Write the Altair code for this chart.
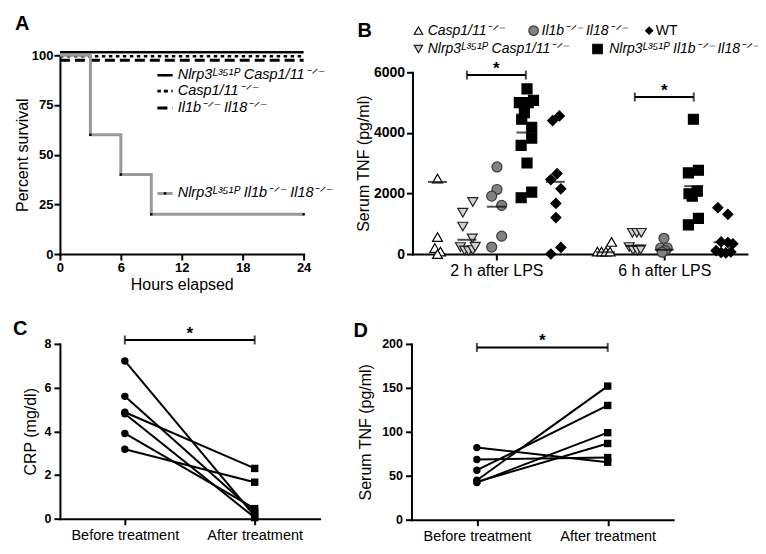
import altair as alt
import pandas as pd

FONT = "Liberation Sans"
GREY = "#9a9a9a"

# ---------------- Panel A : survival ----------------
a_series = ["Nlrp3 Casp1/11", "Casp1/11", "Il1b Il18", "Nlrp3 Il1b Il18"]
a_hours_flat = [0, 24]
a_pct_nlrp3_casp = [101.5, 101.5]
a_pct_casp = [99.5, 99.5]
a_pct_il = [97.5, 97.5]
a_hours_nlrp3_il = [0, 3, 6, 9, 24]
a_pct_nlrp3_il = [100, 60, 40, 20, 20]
a_event_hours = [3, 6, 9, 24]
a_event_pct = [60, 40, 20, 20]
a_legend_text = ["Nlrp3ᴸ³⁵¹ᴾ Casp1/11⁻ᐟ⁻", "Casp1/11⁻ᐟ⁻", "Il1b⁻ᐟ⁻ Il18⁻ᐟ⁻",
                 "Nlrp3ᴸ³⁵¹ᴾ Il1b⁻ᐟ⁻ Il18⁻ᐟ⁻"]
# legend layout, in panel-A data units
a_legend_y = [90, 82, 73.5, 30.5]
a_legend_x0, a_legend_x1, a_legend_tx = 9.6, 11.1, 11.6

# ---------------- Panel B : serum TNF after LPS ----------------
b_groups = ["Casp1/11", "Nlrp3 Casp1/11", "Il1b Il18", "Nlrp3 Il1b Il18", "WT"]
b_times = ["2 h after LPS", "6 h after LPS"]
b2_casp = [2490, 560, 200, 80, 0]
b2_ncasp = [1716, 1366, 907, 514, 230, 120, 100, 130, 240]
b2_il = [2875, 2131, 1913, 1607, 590, 230]
b2_nil = [5450, 4995, 4995, 5070, 4667, 4449, 4186, 3826, 3585, 3006, 2044, 1858]
b2_wt = [4560, 4405, 2656, 2459, 2153, 1672, 1202, 219, 0]
b6_casp = [80, 80, 80, 80, 400]
b6_ncasp = [700, 700, 700, 230, 130, 110, 150]
b6_il = [520, 200, 200, 110, 60]
b6_nil = [4449, 2678, 2765, 2077, 1989, 1913, 962, 1180]
b6_wt = [1530, 1312, 400, 380, 340, 110, 50, 40, 70]
b2_means = [2380, 470, 1563, 4011, 2383]
b6_means = [60, 272, 143, 2241, 390]
b_sig_y = [5908, 5184]
# horizontal jitter (in slot units)
b2_casp_jit = [0.0, 0.0, -0.09, 0.1, 0.0]
b2_ncasp_jit = [0.2, -0.14, -0.14, 0.18, -0.22, -0.08, 0.06, 0.2, 0.28]
b2_il_jit = [0.02, 0.02, -0.16, 0.18, 0.18, -0.16]
b2_nil_jit = [0.04, -0.22, 0.08, 0.26, -0.05, -0.14, 0.2, 0.2, -0.16, 0.04, 0.2, -0.16]
b2_wt_jit = [0.14, -0.09, 0.06, -0.15, 0.19, 0.02, 0.02, 0.19, -0.15]
b6_casp_jit = [-0.27, -0.13, 0.02, 0.16, 0.21]
b6_ncasp_jit = [-0.08, 0.07, 0.22, -0.19, -0.06, 0.09, 0.2]
b6_il_jit = [-0.01, -0.12, 0.1, 0.03, -0.07]
b6_nil_jit = [-0.01, -0.18, 0.16, 0.12, -0.16, -0.05, -0.18, 0.16]
b6_wt_jit = [-0.18, 0.16, -0.07, 0.16, 0.33, -0.24, -0.07, 0.09, 0.26]
b_center = [0.0, 5.7]
b_legend_text = ["Casp1/11⁻ᐟ⁻", "Nlrp3ᴸ³⁵¹ᴾ Casp1/11⁻ᐟ⁻", "Il1b⁻ᐟ⁻ Il18⁻ᐟ⁻",
                 "Nlrp3ᴸ³⁵¹ᴾ Il1b⁻ᐟ⁻ Il18⁻ᐟ⁻", "WT"]

# ---------------- Panels C, D : before / after treatment ----------------
cd_labels = ["Before treatment", "After treatment"]
c_before = [7.22, 5.6, 4.87, 4.8, 3.9, 3.18]
c_after = [0.12, 0.3, 2.3, 0.05, 0.46, 1.67]
c_sig_y = 8.18
d_before = [82, 68.4, 56.3, 44.9, 42.2, 43.0]
d_after = [65.4, 70.7, 130, 152, 99, 86.7]
d_sig_y = 196

# ================= styles =================
B_SHAPE = ["triangle-up", "triangle-down", "circle", "square", "diamond"]
B_FILL = ["#ffffff", "#d2d2d2", "#828282", "#000000", "#000000"]
B_STROKE = ["#000000", "#222222", "#3a3a3a", "#000000", "#000000"]
B_SIZE = [100, 100, 100, 110, 64]


def letter(ch, x, y):
    return alt.Chart(pd.DataFrame({"t": [ch]})).mark_text(
        align="left", baseline="alphabetic", fontSize=20, fontWeight="bold",
        font=FONT, color="black").encode(text="t:N", x=alt.value(x), y=alt.value(y))


# ---------- A ----------
rows = []
for s, hrs, pct in [(a_series[0], a_hours_flat, a_pct_nlrp3_casp),
                    (a_series[1], a_hours_flat, a_pct_casp),
                    (a_series[2], a_hours_flat, a_pct_il),
                    (a_series[3], a_hours_nlrp3_il, a_pct_nlrp3_il)]:
    for h, p in zip(hrs, pct):
        rows.append({"series": s, "hours": h, "pct": p})
a_df = pd.DataFrame(rows)
a_ev = pd.DataFrame({"hours": a_event_hours, "pct": a_event_pct})
a_leg = pd.DataFrame({"series": a_series, "label": a_legend_text, "y": a_legend_y,
                      "x0": a_legend_x0, "x1": a_legend_x1, "tx": a_legend_tx,
                      "xm": (a_legend_x0 + a_legend_x1) / 2})

ax_a_x = alt.Axis(values=[0, 6, 12, 18, 24], title="Hours elapsed", labelFontSize=13,
                  titleFontSize=16, labelPadding=1, titlePadding=3)
ax_a_y = alt.Axis(values=[0, 25, 50, 75, 100], title="Percent survival", labelFontSize=13,
                  titleFontSize=16, labelPadding=1, titlePadding=1)
sc_a_x = alt.Scale(domain=[0, 24], nice=False, zero=False)
sc_a_y = alt.Scale(domain=[0, 100], nice=False)


def AX(f):
    return alt.X(f, type="quantitative", scale=sc_a_x, axis=ax_a_x)


def AY(f):
    return alt.Y(f, type="quantitative", scale=sc_a_y, axis=ax_a_y)


a_color = alt.Color("series:N", scale=alt.Scale(domain=a_series, range=["black", "black", "black", GREY]), legend=None)
a_dash = alt.StrokeDash("series:N", scale=alt.Scale(domain=a_series, range=[[1, 0], [3.5, 3.5], [10, 5], [1, 0]]), legend=None)
a_width = alt.StrokeWidth("series:N", scale=alt.Scale(domain=a_series, range=[2.5, 3, 3, 3.5]), legend=None)

a_lines = alt.Chart(a_df).mark_line(interpolate="step-after", strokeCap="butt").encode(
    x=AX("hours"), y=AY("pct"), detail="series:N", color=a_color, strokeDash=a_dash, strokeWidth=a_width)
a_dots = alt.Chart(a_ev).mark_point(shape="square", filled=True, color="black", size=6, opacity=1).encode(
    x=AX("hours"), y=AY("pct"))
a_leg_rules = alt.Chart(a_leg).mark_rule(strokeCap="butt").encode(
    x=AX("x0"), x2="x1:Q", y=AY("y"), color=a_color, strokeDash=a_dash, strokeWidth=a_width)
a_leg_dots = alt.Chart(a_leg).mark_point(shape="square", filled=True, color="black", size=6, opacity=1).encode(
    x=AX("xm"), y=AY("y"))
a_leg_text = alt.Chart(a_leg).mark_text(align="left", baseline="middle", fontSize=14.5,
                                        fontStyle="italic", font=FONT, color="black").encode(
    x=AX("tx"), y=AY("y"), text="label:N")
panel_a = alt.layer(a_lines, a_dots, a_leg_rules, a_leg_dots, a_leg_text,
                    letter("A", -45, -25)).properties(width=244, height=199)

# ---------- B ----------
b_data = {
    (0, 0): (b2_casp, b2_casp_jit), (0, 1): (b2_ncasp, b2_ncasp_jit), (0, 2): (b2_il, b2_il_jit),
    (0, 3): (b2_nil, b2_nil_jit), (0, 4): (b2_wt, b2_wt_jit),
    (1, 0): (b6_casp, b6_casp_jit), (1, 1): (b6_ncasp, b6_ncasp_jit), (1, 2): (b6_il, b6_il_jit),
    (1, 3): (b6_nil, b6_nil_jit), (1, 4): (b6_wt, b6_wt_jit),
}
rows, mrows = [], []
for ti in range(2):
    means = b2_means if ti == 0 else b6_means
    for gi, g in enumerate(b_groups):
        vals, jits = b_data[(ti, gi)]
        for v, j in zip(vals, jits):
            rows.append({"time": b_times[ti], "group": g, "value": v,
                         "xpos": b_center[ti] + (gi - 2) + j})
        mrows.append({"group": g, "mean": means[gi], "xpos": b_center[ti] + (gi - 2)})
b_df = pd.DataFrame(rows)
b_mean = pd.DataFrame(mrows)
b_sig = pd.DataFrame({"x0": [c - 1 for c in b_center], "x1": [c + 1 for c in b_center],
                      "xm": b_center, "y": b_sig_y})
b_caps = pd.DataFrame({"x": [b_center[0] - 1, b_center[0] + 1, b_center[1] - 1, b_center[1] + 1],
                       "y": [b_sig_y[0], b_sig_y[0], b_sig_y[1], b_sig_y[1]]})

B_H = 199
sc_b_x = alt.Scale(domain=[-2.85, 8.51], nice=False, zero=False)
sc_b_y = alt.Scale(domain=[0, 6000], nice=False, range=[B_H, 17])
ax_b_x = alt.Axis(values=b_center, title=None, labelFontWeight="normal", labelFontSize=16,
                  labelPadding=2,
                  labelExpr="datum.value < 3 ? '2 h after LPS' : '6 h after LPS'")
ax_b_y = alt.Axis(values=[0, 2000, 4000, 6000], format="d", title="Serum TNF (pg/ml)", labelFontSize=14,
                  titleFontSize=16, labelPadding=2, titlePadding=2)


def BX(f):
    return alt.X(f, type="quantitative", scale=sc_b_x, axis=ax_b_x)


def BY(f):
    return alt.Y(f, type="quantitative", scale=sc_b_y, axis=ax_b_y)


b_pts = alt.Chart(b_df).mark_point(filled=True, opacity=1, strokeWidth=1.2).encode(
    x=BX("xpos"), y=BY("value"),
    shape=alt.Shape("group:N", scale=alt.Scale(domain=b_groups, range=B_SHAPE), legend=None),
    fill=alt.Fill("group:N", scale=alt.Scale(domain=b_groups, range=B_FILL), legend=None),
    stroke=alt.Stroke("group:N", scale=alt.Scale(domain=b_groups, range=B_STROKE), legend=None),
    size=alt.Size("group:N", scale=alt.Scale(domain=b_groups, range=B_SIZE), legend=None))
b_means_m = alt.Chart(b_mean).mark_tick(orient="horizontal", size=19, thickness=2, color="black").encode(
    x=BX("xpos"), y=BY("mean"))
b_sig_r = alt.Chart(b_sig).mark_rule(color="black", strokeWidth=2).encode(x=BX("x0"), x2="x1:Q", y=BY("y"))
b_sig_c = alt.Chart(b_caps).mark_tick(orient="vertical", size=9, thickness=2, color="black").encode(
    x=BX("x"), y=BY("y"))
b_sig_t = alt.Chart(b_sig).mark_text(text="*", fontSize=17, fontWeight="bold", font=FONT,
                                     baseline="middle", dy=-6, color="black").encode(x=BX("xm"), y=BY("y"))

# legend (pixel layout relative to the plot origin)
b_leg_sym_x = [6, 6, 121.3, 185.3, 237]
b_leg_txt_x = [15.3, 15.3, 129.3, 197, 243.7]
b_leg_y = [-24.7, -6.3, -24.7, -6.3, -24.7]
b_leg_size = [70, 70, 90, 90, 50]
b_leg_layers = []
for i, g in enumerate(b_groups):
    b_leg_layers.append(
        alt.Chart(pd.DataFrame({"g": [g]})).mark_point(
            shape=B_SHAPE[i], filled=True, fill=B_FILL[i], stroke=B_STROKE[i], strokeWidth=1.2,
            size=b_leg_size[i], opacity=1).encode(x=alt.value(b_leg_sym_x[i]), y=alt.value(b_leg_y[i])))
    b_leg_layers.append(
        alt.Chart(pd.DataFrame({"t": [b_legend_text[i]]})).mark_text(
            align="left", baseline="middle", fontSize=14, font=FONT, color="black",
            fontStyle="normal" if g == "WT" else "italic").encode(
            text="t:N", x=alt.value(b_leg_txt_x[i]), y=alt.value(b_leg_y[i])))
panel_b = alt.layer(b_pts, b_means_m, b_sig_r, b_sig_c, b_sig_t, *b_leg_layers,
                    letter("B", -55, -18)).properties(width=335, height=B_H)


# ---------- C & D ----------
def paired(before, after, sig_y, ydomain, yvalues, ytitle, lab, lab_x, lab_y, w, h, tpad):
    rows = []
    for i, (b, a) in enumerate(zip(before, after)):
        rows.append({"subj": i, "x": 0, "v": b})
        rows.append({"subj": i, "x": 1, "v": a})
    df = pd.DataFrame(rows)
    sx = alt.Scale(domain=[-0.5, 1.5], nice=False, zero=False)
    sy = alt.Scale(domain=ydomain, nice=False)
    axx = alt.Axis(values=[0, 1], title=None, labelFontWeight="normal", labelFontSize=14.5,
                   labelPadding=4,
                   labelExpr="datum.value == 0 ? 'Before treatment' : 'After treatment'")
    axy = alt.Axis(values=yvalues, title=ytitle, labelFontSize=12.5, titleFontSize=16,
                   labelPadding=3, titlePadding=tpad)

    def X(f):
        return alt.X(f, type="quantitative", scale=sx, axis=axx)

    def Y(f):
        return alt.Y(f, type="quantitative", scale=sy, axis=axy)

    lines = alt.Chart(df).mark_line(color="black", strokeWidth=2).encode(x=X("x"), y=Y("v"), detail="subj:N")
    pts_b = alt.Chart(pd.DataFrame({"x": 0, "v": before})).mark_point(
        shape="circle", filled=True, color="black", opacity=1, size=55).encode(x=X("x"), y=Y("v"))
    pts_a = alt.Chart(pd.DataFrame({"x": 1, "v": after})).mark_point(
        shape="square", filled=True, color="black", opacity=1, size=55).encode(x=X("x"), y=Y("v"))
    sig = pd.DataFrame({"x0": [0], "x1": [1], "xm": [0.5], "y": [sig_y]})
    caps = pd.DataFrame({"x": [0, 1], "y": [sig_y, sig_y]})
    r = alt.Chart(sig).mark_rule(color="black", strokeWidth=2).encode(x=X("x0"), x2="x1:Q", y=Y("y"))
    c = alt.Chart(caps).mark_tick(orient="vertical", size=9, thickness=2, color="black").encode(x=X("x"), y=Y("y"))
    t = alt.Chart(sig).mark_text(text="*", fontSize=17, fontWeight="bold", font=FONT, baseline="middle",
                                 dy=-6, color="black").encode(x=X("xm"), y=Y("y"))
    return alt.layer(lines, pts_b, pts_a, r, c, t, letter(lab, lab_x, lab_y)).properties(width=w, height=h)


panel_c = paired(c_before, c_after, c_sig_y, [0, 8], [0, 2, 4, 6, 8], "CRP (mg/dl)", "C", -47, -9, 260, 175, 6)
panel_d = paired(d_before, d_after, d_sig_y, [0, 200], [0, 50, 100, 150, 200], "Serum TNF (pg/ml)", "D",
                 -58, -7, 262, 176, 8)

chart = alt.vconcat(
    alt.hconcat(panel_a, panel_b, spacing=22),
    alt.hconcat(panel_c, panel_d, spacing=34),
    spacing=26,
).properties(
    padding={"left": 5, "top": 6, "right": 0, "bottom": 2}
).configure_axis(
    domainColor="black", domainWidth=2, domainCap="square", tickColor="black", tickWidth=2, tickSize=6,
    labelColor="black", labelFont=FONT, labelFontWeight="bold", titleFont=FONT,
    titleFontWeight="normal", titleColor="black", grid=False, labelFlush=False
).configure_view(stroke=None)

chart.save("out.html", embed_options={"renderer": "svg", "actions": False})
